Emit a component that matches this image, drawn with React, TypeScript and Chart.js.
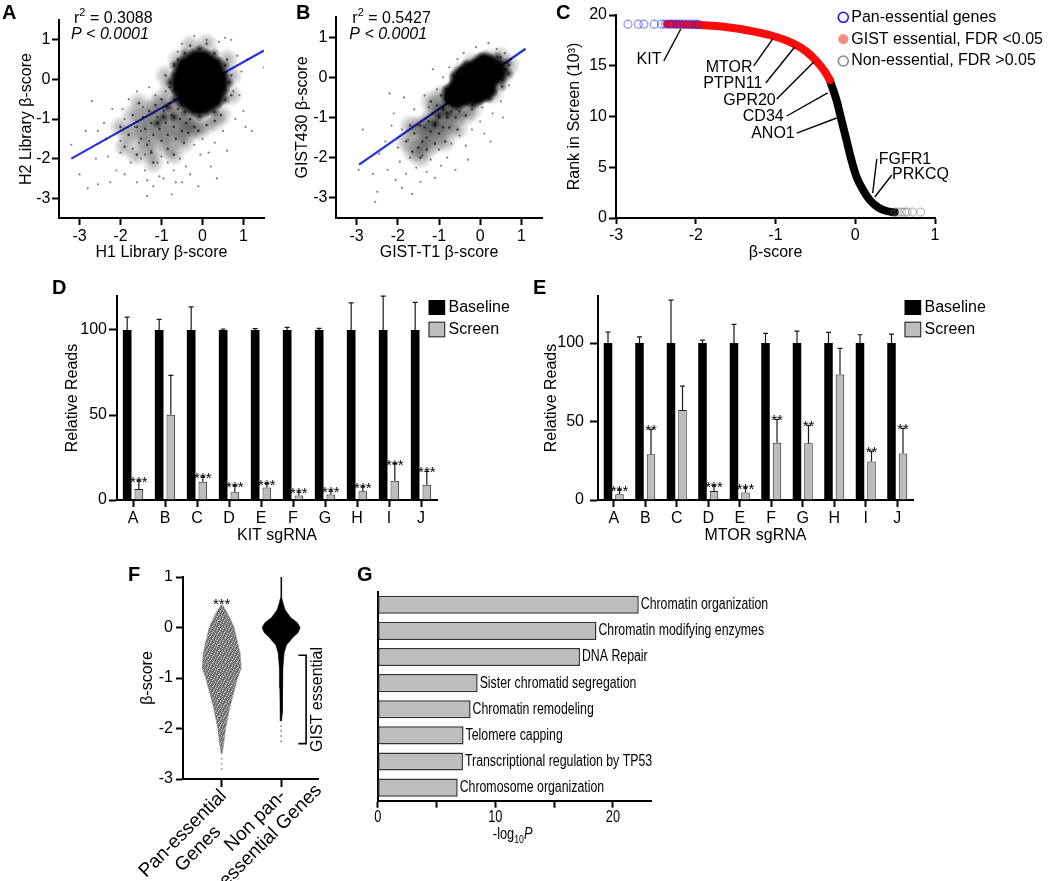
import React, { useEffect, useRef } from "react";
import { Chart, registerables } from "chart.js";

Chart.register(...registerables);

const FONT = "'Liberation Sans', Arial, Helvetica, sans-serif";
Chart.defaults.font.family = FONT;
Chart.defaults.font.size = 16;
Chart.defaults.color = "#000";

type Pt = [number, number];

// ======================= DATA =======================
// ---- Panel A : H1 vs H2 library beta-scores ----
const aTicks = [-3, -2, -1, 0, 1];
const aR2 = "0.3088";
const aP = "< 0.0001";
const aFit: Pt[] = [[-3.2, -2.0], [1.5, 0.73]];
const aCore: Pt[] = [[-0.07, -0.08], [-0.4, -0.08], [0.26, -0.08], [-0.07, 0.37], [-0.07, -0.53], [-0.3, 0.22], [0.16, 0.22], [-0.3, -0.38], [0.16, -0.38]];
const aFringe: Pt[] = [
  [0.65, -0.08], [0.55, 0.35], [0.29, 0.66], [-0.07, 0.77], [-0.43, 0.66], [-0.69, 0.35], [-0.79, -0.08], [-0.69, -0.51], [-0.43, -0.82], [-0.07, -0.93], [0.29, -0.82], [0.55, -0.51],
  [0.53, 0.11], [0.37, 0.45], [0.09, 0.64], [-0.23, 0.64], [-0.51, 0.45], [-0.67, 0.11], [-0.67, -0.27], [-0.51, -0.61], [-0.23, -0.8], [0.09, -0.8], [0.37, -0.61], [0.53, -0.27],
  [-0.85, -0.7], [-0.95, -0.95], [-0.7, -0.95], [-1.1, -1.1],
];
const aMid: Pt[] = [
  [-1.6, -1.2], [-1.5, -1.5], [-1.45, -0.95], [-1.4, -1.25], [-1.35, -1.65], [-1.3, -0.8], [-1.25, -1.1], [-1.2, -1.4], [-1.15, -0.65], [-1.1, -0.95],
  [-1.05, -1.25], [-1.0, -1.55], [-1.0, -0.5], [-0.95, -0.8], [-0.9, -1.1], [-0.85, -1.4], [-0.85, -1.75], [-0.8, -0.6], [-0.75, -0.9], [-0.7, -1.2],
  [-0.65, -1.5], [-0.6, -0.75], [-0.55, -1.0], [-0.5, -1.3], [-0.45, -1.6], [-0.4, -1.1], [-0.35, -1.35], [-0.3, -1.0], [-0.2, -1.2], [-0.1, -1.3],
  [0.1, -1.15], [0.3, -1.05], [-1.7, -0.9], [-1.8, -1.4], [-1.25, -1.85], [-1.55, -0.6], [-0.7, -1.9], [-0.6, 0.5], [-0.9, 0.1], [-0.8, -0.2],
  [0.45, -0.9], [0.6, 0.5], [0.7, 0.1], [0.7, -0.4], [-0.3, 0.85], [0.1, 0.9], [-2.0, -1.2], [-1.9, -1.7], [-1.6, -1.9], [-1.2, -2.1],
];
const aSparse: Pt[] = [
  [-3.2, -1.65], [-2.8, -2.75], [-2.7, -0.55], [-2.85, -1.3], [-2.55, -1.3], [-2.55, -2.65], [-2.3, -1.95], [-2.2, -0.75], [-2.1, -2.3], [-2.0, -1.55],
  [-2.0, -1.85], [-1.9, -1.0], [-1.9, -2.4], [-1.8, -1.4], [-1.8, -0.5], [-1.75, -2.1], [-1.7, -1.75], [-1.65, -1.2], [-1.6, -2.6], [-1.6, -0.3],
  [-1.55, -1.6], [-1.5, -2.0], [-1.5, -1.3], [-1.45, -0.7], [-1.4, -1.9], [-1.4, -2.3], [-1.35, -2.95], [-1.3, -1.55], [-1.3, -0.2], [-1.25, -1.8],
  [-1.2, -2.7], [-1.15, -0.4], [-1.1, -2.1], [-1.05, -2.45], [-1.0, -1.95], [-0.95, -2.5], [-0.9, -0.3], [-0.85, -2.1], [-0.75, -2.9], [-0.7, -2.3],
  [-0.7, 0.4], [-0.6, 0.7], [-0.55, -2.0], [-0.5, -2.6], [-0.5, 0.9], [-0.4, -2.2], [-0.3, -2.4], [-0.2, 1.1], [-0.1, -2.7], [-0.05, -1.9],
  [0.1, 1.0], [0.2, -2.2], [0.35, -2.5], [0.4, 0.95], [0.6, -1.8], [0.7, 1.0], [0.75, -0.3], [0.9, -0.4], [1.05, -1.2], [1.2, -1.3],
  [1.5, 0.3], [0.85, 0.6], [0.95, 0.2], [1.0, -0.8], [0.3, -1.6], [-0.2, -1.65], [0.0, -1.5], [0.5, -1.3], [0.8, -1.0], [-2.4, -1.1],
  [-2.6, -2.0], [-3.0, -2.4], [-2.35, -1.5], [-1.95, -0.75], [-1.35, -2.55], [-0.65, -2.6], [0.15, -1.85], [-2.25, -2.6], [1.1, 0.5], [0.55, 1.05],
];

// ---- Panel B : GIST-T1 vs GIST430 beta-scores ----
const bTicks = [-3, -2, -1, 0, 1];
const bR2 = "0.5427";
const bP = "< 0.0001";
const bFit: Pt[] = [[-2.94, -2.17], [1.1, 0.71]];
const bCore: Pt[] = [[-0.06, -0.1], [-0.44, -0.34], [0.32, 0.14], [-0.25, -0.22], [0.13, 0.02], [-0.2, 0.08], [0.08, -0.25], [-0.6, -0.46], [0.1, 0.27], [-0.38, -0.05], [-0.15, -0.38]];
const bFringe: Pt[] = [
  [0.65, 0.36], [0.42, 0.51], [0.06, 0.49], [-0.33, 0.32], [-0.65, 0.03], [-0.81, -0.29], [-0.77, -0.56], [-0.54, -0.71], [-0.18, -0.69], [0.21, -0.52], [0.53, -0.23], [0.69, 0.09],
  [0.49, 0.38], [0.23, 0.44], [-0.12, 0.35], [-0.44, 0.14], [-0.67, -0.14], [-0.73, -0.4], [-0.61, -0.58], [-0.35, -0.64], [0.0, -0.55], [0.32, -0.34], [0.55, -0.06], [0.61, 0.2],
  [-0.9, -0.75], [-1.0, -0.95], [-0.8, -0.9], [-1.1, -1.15],
];
const bMid: Pt[] = [
  [-0.9, -0.8], [-1.0, -1.0], [-1.1, -1.2], [-1.2, -1.35], [-1.3, -1.5], [-1.4, -1.6], [-1.5, -1.75], [-0.8, -1.0], [-0.9, -1.25], [-1.0, -1.4],
  [-1.15, -0.9], [-1.25, -1.1], [-1.35, -1.25], [-0.7, -0.85], [-0.6, -1.0], [-0.75, -1.25], [-1.05, -0.7], [-1.2, -0.6], [-1.45, -1.2], [-1.6, -1.4],
  [-0.5, -0.85], [-0.35, -0.95], [-0.2, -0.8], [-1.3, -1.8], [-1.1, -1.65], [0.3, -0.4], [0.55, 0.05], [0.7, 0.3], [0.5, 0.5], [0.2, 0.45],
  [-0.2, 0.35], [-0.45, 0.15], [-0.95, -0.45], [-1.7, -1.2], [-0.85, -1.6], [-1.65, -1.85], [-1.8, -1.6], [-1.45, -2.0], [-0.55, -1.3], [-0.4, -0.2],
];
const bSparse: Pt[] = [
  [-2.85, -1.3], [-2.95, -2.3], [-2.55, -3.1], [-2.5, -2.85], [-2.45, -1.9], [-2.3, -1.6], [-2.25, -2.3], [-2.1, -0.9], [-2.05, -2.55], [-2.0, -1.75],
  [-1.95, -2.1], [-1.9, -1.3], [-1.85, -0.5], [-1.8, -2.4], [-1.75, -1.55], [-1.7, -2.0], [-1.65, -2.9], [-1.6, -0.8], [-1.55, -2.25], [-1.5, -1.2],
  [-1.45, -2.6], [-1.4, -1.95], [-1.35, -0.45], [-1.3, -2.35], [-1.25, -0.75], [-1.2, -2.05], [-1.1, -2.5], [-1.05, -0.3], [-1.0, -1.8], [-0.95, -2.2],
  [-0.9, 0.0], [-0.8, -2.0], [-0.75, 0.25], [-0.7, -1.65], [-0.6, -2.3], [-0.55, 0.45], [-0.5, -1.45], [-0.4, 0.6], [-0.35, -1.7], [-0.2, -1.3],
  [-0.1, 0.75], [0.0, -1.1], [0.1, -1.4], [0.2, 0.85], [0.3, -0.9], [0.4, 0.7], [0.5, -0.6], [0.6, 0.6], [0.7, -0.2], [0.75, 0.45],
  [0.55, -1.0], [-1.15, 0.2], [-2.15, -1.2], [-0.3, -2.05], [0.25, -1.6], [-2.6, -2.4], [-1.9, -2.75], [-0.65, -0.3], [0.05, -0.75], [-2.2, -0.4],
];

// ---- Panel C : rank plot ----
const cXTicks = [-3, -2, -1, 0, 1];
const cYTicks = [0, 5, 10, 15, 20];
const cGistEssential: Pt[] = [[-2.36, 19.11], [-1.95, 19.02], [-1.6, 18.8], [-1.32, 18.45], [-1.03, 17.93], [-0.78, 17.2], [-0.61, 16.38], [-0.48, 15.4], [-0.38, 14.41], [-0.32, 13.6]];
const cNonEssential: Pt[] = [[-0.32, 13.6], [-0.236, 11.63], [-0.173, 9.66], [-0.11, 7.68], [-0.048, 5.71], [0.015, 4.07], [0.098, 2.76], [0.182, 1.77], [0.286, 1.05], [0.391, 0.69], [0.495, 0.56]];
const cPanEssential: Pt[] = [[-2.85, 19.1], [-2.72, 19.1], [-2.65, 19.1], [-2.52, 19.1], [-2.43, 19.1], [-2.38, 19.1], [-2.33, 19.1], [-2.29, 19.1], [-2.24, 19.1], [-2.2, 19.1], [-2.15, 19.1], [-2.1, 19.1], [-2.05, 19.1], [-2.0, 19.1], [-1.97, 19.08]];
const cNonEssTail: Pt[] = [[0.5, 0.58], [0.54, 0.58], [0.58, 0.58], [0.62, 0.58], [0.65, 0.58], [0.72, 0.58], [0.82, 0.58]];
const cLegend = ["Pan-essential genes", "GIST essential, FDR <0.05", "Non-essential, FDR >0.05"];
const cGenes = ["KIT", "MTOR", "PTPN11", "GPR20", "CD34", "ANO1", "FGFR1", "PRKCQ"];
const cGeneText: Pt[] = [[-2.43, 15.62], [-1.289, 14.78], [-1.164, 13.25], [-0.997, 11.58], [-0.897, 9.98], [-0.759, 8.28], [0.295, 5.76], [0.461, 4.27]];
const cGeneFrom: Pt[] = [[-2.401, 15.47], [-1.273, 14.98], [-1.122, 13.3], [-0.984, 11.72], [-0.859, 10.05], [-0.734, 8.37], [0.27, 5.81], [0.458, 4.24]];
const cGeneTo: Pt[] = [[-2.188, 18.62], [-1.034, 17.64], [-0.759, 16.85], [-0.52, 15.37], [-0.345, 12.32], [-0.232, 9.85], [0.219, 2.46], [0.245, 2.07]];

// ---- Panels D & E : relative reads ----
const sgRNAs = ["A", "B", "C", "D", "E", "F", "G", "H", "I", "J"];
const relTicks = [0, 50, 100];
const kitBaseline = [100, 100, 100, 100, 100, 100, 100, 100, 100, 100];
const kitBaselineErr = [7.6, 6.2, 13.6, 0.6, 0.8, 1.5, 1.0, 16, 19.9, 16.2];
const kitScreen = [6.4, 50.1, 10.7, 4.5, 7.4, 2.7, 3.3, 5.1, 11.3, 9.0];
const kitScreenErr = [4.9, 23.2, 2.9, 3.9, 2.3, 2.0, 2.0, 2.7, 10.1, 7.8];
const kitStars = ["***", "", "***", "***", "***", "***", "***", "***", "***", "***"];
const mtorBaseline = [100, 100, 100, 100, 100, 100, 100, 100, 100, 100];
const mtorBaselineErr = [7.0, 4.0, 27.4, 1.9, 11.9, 6.2, 7.6, 6.8, 5.3, 5.7];
const mtorScreen = [3.6, 29.1, 57.3, 5.7, 4.7, 36.5, 36.1, 80, 24.6, 29.7];
const mtorScreenErr = [2.8, 16.1, 15.3, 3.4, 3.1, 14.9, 11.5, 16.6, 6.6, 15.9];
const mtorStars = ["***", "**", "", "***", "***", "**", "**", "", "**", "**"];
const barSeries = ["Baseline", "Screen"];

// ---- Panel F : beta-score distributions ----
const fYTicks = [-3, -2, -1, 0, 1];
const fGroups = [["Pan-essential", "Genes"], ["Non pan-", "essential Genes"]];
const fPanY = [0.45, 0.35, 0.2, 0, -0.2, -0.5, -0.8, -1.0, -1.3, -1.6, -2.0, -2.3, -2.5];
const fPanHalfWidth = [0.008, 0.067, 0.135, 0.21, 0.25, 0.31, 0.33, 0.27, 0.2, 0.135, 0.067, 0.034, 0.01];
const fPanTail = [-2.6, -2.7, -2.8];
const fNonY = [1.0, 0.6, 0.5, 0.35, 0.2, 0.1, 0, -0.1, -0.2, -0.35, -0.5, -0.8, -1.2, -1.7, -1.85];
const fNonHalfWidth = [0.005, 0.008, 0.029, 0.067, 0.16, 0.27, 0.32, 0.287, 0.197, 0.089, 0.051, 0.03, 0.022, 0.017, 0.008];
const fNonTail = [-1.95, -2.05, -2.15, -2.25];
const fStars = "***";
const fGistRange = [-0.55, -2.3];
const fGistLabel = "GIST essential";

// ---- Panel G : pathway enrichment ----
const gTerms = [
  "Chromatin organization",
  "Chromatin modifying enzymes",
  "DNA Repair",
  "Sister chromatid segregation",
  "Chromatin remodeling",
  "Telomere capping",
  "Transcriptional regulation by TP53",
  "Chromosome organization",
];
const gLogP = [22.2, 18.6, 17.2, 8.5, 7.9, 7.3, 7.25, 6.8];
const gTicks = [0, 5, 10, 15, 20];
const gTickLabels = [0, 10, 20];

// ======================= HELPERS =======================
const xy = (arr: Pt[]) => arr.map(([x, y]) => ({ x, y }));

// soft round marker (point style) used to render dense clouds
function softDisk(r: number, alpha: number, solid: number) {
  const c = document.createElement("canvas");
  c.width = Math.ceil(2 * r);
  c.height = Math.ceil(2 * r);
  const g = c.getContext("2d") as CanvasRenderingContext2D;
  const grad = g.createRadialGradient(r, r, 0, r, r, r);
  grad.addColorStop(0, `rgba(0,0,0,${alpha})`);
  grad.addColorStop(solid, `rgba(0,0,0,${alpha})`);
  grad.addColorStop(1, "rgba(0,0,0,0)");
  g.fillStyle = grad;
  g.beginPath();
  g.arc(r, r, r, 0, Math.PI * 2);
  g.fill();
  return c;
}

// speckled grey texture for the swarm plot
function speckle() {
  const c = document.createElement("canvas");
  c.width = 6;
  c.height = 6;
  const g = c.getContext("2d") as CanvasRenderingContext2D;
  g.fillStyle = "#7c7c7c";
  g.fillRect(0, 0, 6, 6);
  g.fillStyle = "#c8c8c8";
  [[0, 0], [3, 1], [5, 3], [1, 4], [4, 5], [2, 2]].forEach(([x, y]) => g.fillRect(x, y, 1, 1));
  g.fillStyle = "#5e5e5e";
  [[1, 1], [4, 3], [2, 5], [5, 0]].forEach(([x, y]) => g.fillRect(x, y, 1, 1));
  return g.createPattern(c, "repeat");
}

interface AxOpt {
  type?: string;
  min?: number;
  max?: number;
  tickValues?: number[];
  size: number;
  horizontal: boolean;
  title?: string;
  titlePad?: number;
  tickLen?: number;
  tickPad?: number;
  rotation?: number;
  labels?: boolean;
  callback?: (v: any, i: number) => any;
  offset?: boolean;
  grid?: boolean;
}

function axis(o: AxOpt) {
  const ticks: any = {
    display: o.labels !== false,
    color: "#000",
    font: { family: FONT, size: 16 },
    padding: o.tickPad ?? 2,
    maxRotation: o.rotation ?? 0,
    minRotation: o.rotation ?? 0,
    autoSkip: false,
  };
  if (o.callback) ticks.callback = o.callback;
  const sc: any = {
    type: o.type ?? "linear",
    offset: o.offset ?? false,
    grid: {
      display: o.grid !== false,
      drawOnChartArea: false,
      drawTicks: true,
      tickLength: o.tickLen ?? 7,
      tickWidth: 2,
      tickColor: "#000",
      offset: false,
    },
    border: { display: true, color: "#000", width: 2 },
    ticks,
    title: o.title
      ? {
          display: true,
          text: o.title,
          color: "#000",
          font: { family: FONT, size: 16 },
          padding: o.horizontal ? { top: 0, bottom: o.titlePad ?? 0 } : { top: o.titlePad ?? 0, bottom: 0 },
        }
      : { display: false },
    afterFit: (s: any) => {
      if (o.horizontal) s.height = o.size;
      else s.width = o.size;
      s.paddingLeft = 0;
      s.paddingRight = 0;
      s.paddingTop = 0;
      s.paddingBottom = 0;
    },
  };
  if (o.min !== undefined) sc.min = o.min;
  if (o.max !== undefined) sc.max = o.max;
  if (o.tickValues) {
    const tv = o.tickValues;
    sc.afterBuildTicks = (s: any) => {
      s.ticks = tv.map((v) => ({ value: v }));
    };
  }
  return sc;
}

const baseOptions = (padding: any) => ({
  responsive: false,
  maintainAspectRatio: false,
  animation: false,
  devicePixelRatio: 1,
  events: [],
  layout: { padding },
  plugins: { legend: { display: false }, tooltip: { enabled: false } },
});

function drawCondensed(ctx: any, text: string, x: number, y: number, scale: number, align: string) {
  ctx.save();
  ctx.translate(x, y);
  ctx.scale(scale, 1);
  ctx.textAlign = align;
  ctx.fillText(text, 0, 0);
  ctx.restore();
}

// ======================= CONFIGS =======================
function cloudConfig(p: {
  core: Pt[]; fringe: Pt[]; mid: Pt[]; sparse: Pt[]; fit: Pt[]; ticks: number[];
  yW: number; padRight: number; xTitle: string; yTitle: string; yTitlePad: number;
  r2: string; pv: string; statX: number; coreR: number;
}) {
  const statsPlugin = {
    id: "stats",
    afterDraw(chart: any) {
      const ctx = chart.ctx;
      ctx.save();
      ctx.fillStyle = "#000";
      ctx.textBaseline = "alphabetic";
      ctx.textAlign = "left";
      ctx.font = `16px ${FONT}`;
      ctx.fillText("r", p.statX + 3, 23);
      const w = ctx.measureText("r").width;
      ctx.font = `11px ${FONT}`;
      ctx.fillText("2", p.statX + 3 + w, 16);
      const w2 = ctx.measureText("2").width;
      ctx.font = `16px ${FONT}`;
      ctx.fillText(" = " + p.r2, p.statX + 3 + w + w2, 23);
      ctx.font = `italic 16px ${FONT}`;
      ctx.fillText("P " + p.pv, p.statX, 38.5);
      ctx.restore();
    },
  };
  const coreStyle = softDisk(p.coreR, 1, 0.62);
  const hazeStyle = softDisk(12, 0.28, 0.2);
  const fringeStyle = softDisk(6, 0.45, 0.3);
  return {
    type: "scatter",
    data: {
      datasets: [
        { data: xy(p.core), pointStyle: coreStyle, pointRadius: p.coreR, order: 1 },
        { data: xy(p.fringe), pointStyle: fringeStyle, pointRadius: 6, order: 2 },
        { data: xy(p.fringe), pointRadius: 1.2, backgroundColor: "rgba(0,0,0,0.6)", borderWidth: 0, order: 3 },
        { data: xy(p.mid), pointRadius: 1.3, backgroundColor: "rgba(0,0,0,0.6)", borderWidth: 0, order: 4 },
        { data: xy(p.mid), pointStyle: hazeStyle, pointRadius: 12, order: 5 },
        { data: xy(p.sparse), pointRadius: 1.1, backgroundColor: "rgba(0,0,0,0.5)", borderWidth: 0, order: 6 },
        { data: xy(p.fit), showLine: true, pointRadius: 0, borderColor: "#2430e8", borderWidth: 2.2, order: 7 },
      ],
    },
    options: {
      ...baseOptions({ left: 0, top: 13, right: p.padRight, bottom: 0 }),
      scales: {
        x: axis({ min: -3.5, max: 1.5, tickValues: p.ticks, size: 52, horizontal: true, title: p.xTitle, titlePad: 7.4, tickLen: 7, tickPad: 2 }),
        y: axis({ min: -3.5, max: 1.5, tickValues: p.ticks, size: p.yW, horizontal: false, title: p.yTitle, titlePad: p.yTitlePad, tickLen: 7, tickPad: 1.5 }),
      },
    },
    plugins: [statsPlugin],
  };
}

function rankConfig() {
  const annot = {
    id: "annot",
    afterDraw(chart: any) {
      const { ctx, scales } = chart;
      const sx = scales.x, sy = scales.y;
      ctx.save();
      ctx.strokeStyle = "#000";
      ctx.lineWidth = 1.4;
      ctx.fillStyle = "#000";
      ctx.font = `16px ${FONT}`;
      ctx.textBaseline = "middle";
      cGenes.forEach((g, i) => {
        const [tx, ty] = cGeneText[i];
        ctx.textAlign = tx > 0 ? "left" : "right";
        ctx.fillText(g, sx.getPixelForValue(tx), sy.getPixelForValue(ty));
        ctx.beginPath();
        ctx.moveTo(sx.getPixelForValue(cGeneFrom[i][0]), sy.getPixelForValue(cGeneFrom[i][1]));
        ctx.lineTo(sx.getPixelForValue(cGeneTo[i][0]), sy.getPixelForValue(cGeneTo[i][1]));
        ctx.stroke();
      });
      // legend (top right, over the plot)
      const lx = chart.chartArea.right - 91.7;
      const lys = [17.3, 39.3, 61];
      ctx.textAlign = "left";
      lys.forEach((ly, i) => {
        ctx.beginPath();
        ctx.arc(lx, ly, 5, 0, Math.PI * 2);
        if (i === 0) { ctx.strokeStyle = "#1515ff"; ctx.lineWidth = 1.6; ctx.stroke(); }
        if (i === 1) { ctx.fillStyle = "#f58b7b"; ctx.fill(); }
        if (i === 2) { ctx.strokeStyle = "#8a8a8a"; ctx.lineWidth = 1.6; ctx.stroke(); }
        ctx.fillStyle = "#000";
        ctx.fillText(cLegend[i], lx + 8, ly);
      });
      ctx.restore();
    },
  };
  return {
    type: "scatter",
    data: {
      datasets: [
        { data: xy(cPanEssential), pointRadius: 4, pointBackgroundColor: "rgba(0,0,0,0)", pointBorderColor: "rgba(40,40,255,0.55)", pointBorderWidth: 1.2, order: 1 },
        { data: xy(cNonEssTail), pointRadius: 4, pointBackgroundColor: "rgba(0,0,0,0)", pointBorderColor: "rgba(120,120,120,0.5)", pointBorderWidth: 1.2, order: 2 },
        { data: xy(cGistEssential), showLine: true, pointRadius: 0, borderColor: "#ff0a0a", borderWidth: 8, borderCapStyle: "round", borderJoinStyle: "round", cubicInterpolationMode: "monotone", order: 3 },
        { data: xy(cNonEssential), showLine: true, pointRadius: 0, borderColor: "#000", borderWidth: 8, borderCapStyle: "round", borderJoinStyle: "round", cubicInterpolationMode: "monotone", order: 4 },
      ],
    },
    options: {
      ...baseOptions({ left: 0, top: 15, right: 115, bottom: 0 }),
      scales: {
        x: axis({ min: -3, max: 1, tickValues: cXTicks, size: 52, horizontal: true, title: "β-score", titlePad: 7.7, tickLen: 6, tickPad: 2 }),
        y: axis({ min: 0, max: 20, tickValues: cYTicks, size: 56, horizontal: false, title: "Rank in Screen (10³)", titlePad: 5.4, tickLen: 7, tickPad: 2 }),
      },
    },
    plugins: [annot],
  };
}

function readsConfig(p: { base: number[]; baseErr: number[]; screen: number[]; screenErr: number[]; stars: string[]; max: number; yW: number; padRight: number; xTitle: string; yTitlePad: number; yTickPad: number }) {
  const errPlugin = {
    id: "errbars",
    afterDatasetsDraw(chart: any) {
      const ctx = chart.ctx;
      const ys = chart.scales.y;
      chart.data.datasets.forEach((ds: any, i: number) => {
        const meta = chart.getDatasetMeta(i);
        meta.data.forEach((el: any, j: number) => {
          const top = ys.getPixelForValue(ds.data[j] + ds.errors[j]);
          ctx.save();
          ctx.strokeStyle = "#1a1a1a";
          ctx.lineWidth = 1.2;
          ctx.beginPath();
          ctx.moveTo(el.x, el.y);
          ctx.lineTo(el.x, top);
          ctx.moveTo(el.x - 2.5, top);
          ctx.lineTo(el.x + 2.5, top);
          ctx.stroke();
          const s = ds.stars ? ds.stars[j] : "";
          if (s) {
            ctx.font = `15px ${FONT}`;
            ctx.fillStyle = "#000";
            ctx.textAlign = "center";
            ctx.textBaseline = "alphabetic";
            ctx.fillText(s, el.x, top + 6);
          }
          ctx.restore();
        });
      });
    },
    afterDraw(chart: any) {
      const { ctx, chartArea } = chart;
      const x0 = chartArea.right - 8.5;
      ctx.save();
      ctx.fillStyle = "#000";
      ctx.fillRect(x0, 15, 16.7, 15);
      ctx.fillStyle = "#bdbdbd";
      ctx.fillRect(x0, 36.7, 16.7, 15.6);
      ctx.strokeStyle = "#222";
      ctx.lineWidth = 1;
      ctx.strokeRect(x0 + 0.5, 37.2, 15.7, 14.6);
      ctx.fillStyle = "#000";
      ctx.font = `16px ${FONT}`;
      ctx.textAlign = "left";
      ctx.textBaseline = "middle";
      ctx.fillText(barSeries[0], x0 + 20, 22.5);
      ctx.fillText(barSeries[1], x0 + 20, 45);
      ctx.restore();
    },
  };
  return {
    type: "bar",
    data: {
      labels: sgRNAs,
      datasets: [
        { label: barSeries[0], data: p.base, errors: p.baseErr, backgroundColor: "#000", borderWidth: 0, categoryPercentage: 0.73, barPercentage: 0.74 },
        { label: barSeries[1], data: p.screen, errors: p.screenErr, stars: p.stars, backgroundColor: "#bdbdbd", borderColor: "#222", borderWidth: 1, categoryPercentage: 0.73, barPercentage: 0.74 },
      ],
    },
    options: {
      ...baseOptions({ left: 0, top: 11, right: p.padRight, bottom: 0 }),
      scales: {
        x: axis({ type: "category", offset: true, size: 85, horizontal: true, title: p.xTitle, titlePad: 39.4, tickLen: 7, tickPad: 1.5 }),
        y: axis({ min: 0, max: p.max, tickValues: relTicks, size: p.yW, horizontal: false, title: "Relative Reads", titlePad: p.yTitlePad, tickLen: 8, tickPad: p.yTickPad }),
      },
    },
    plugins: [errPlugin],
  };
}

function violinPts(cx: number, ys: number[], hw: number[]) {
  const right = ys.map((y, i) => ({ x: cx + hw[i], y }));
  const left = ys.map((y, i) => ({ x: cx - hw[i], y })).reverse();
  return [...right, ...left];
}

function swarmConfig() {
  const annot = {
    id: "fannot",
    afterDraw(chart: any) {
      const { ctx, scales, chartArea } = chart;
      const sx = scales.x, sy = scales.y;
      ctx.save();
      ctx.fillStyle = "#000";
      ctx.font = `15px ${FONT}`;
      ctx.textAlign = "center";
      ctx.textBaseline = "alphabetic";
      ctx.fillText(fStars, sx.getPixelForValue(0), sy.getPixelForValue(0.48) + 6);
      const bx = sx.getPixelForValue(1.42);
      const bl = sx.getPixelForValue(1.29);
      const y1 = sy.getPixelForValue(fGistRange[0]);
      const y2 = sy.getPixelForValue(fGistRange[1]);
      ctx.strokeStyle = "#000";
      ctx.lineWidth = 1.6;
      ctx.beginPath();
      ctx.moveTo(bl, y1);
      ctx.lineTo(bx, y1);
      ctx.lineTo(bx, y2);
      ctx.lineTo(bl, y2);
      ctx.stroke();
      ctx.save();
      ctx.translate(sx.getPixelForValue(1.607), (y1 + y2) / 2);
      ctx.rotate(-Math.PI / 2);
      ctx.font = `16px ${FONT}`;
      ctx.textBaseline = "middle";
      ctx.fillText(fGistLabel, 0, 0);
      ctx.restore();
      // rotated, centre-aligned group labels
      ctx.font = `19px ${FONT}`;
      ctx.textBaseline = "middle";
      [0, 1].forEach((v, i) => {
        const lines = fGroups[i];
        ctx.save();
        ctx.translate(sx.getPixelForValue(v) + 2, chartArea.bottom + 14);
        ctx.rotate(-Math.PI / 4);
        const w0 = ctx.measureText(lines[0]).width;
        ctx.textAlign = "right";
        ctx.fillText(lines[0], 0, 0);
        ctx.textAlign = "center";
        for (let k = 1; k < lines.length; k++) ctx.fillText(lines[k], -w0 / 2, k * 21.5);
        ctx.restore();
      });
      ctx.restore();
    },
  };
  const pat = speckle();
  return {
    type: "scatter",
    data: {
      datasets: [
        { data: violinPts(0, fPanY, fPanHalfWidth), showLine: true, fill: "shape", backgroundColor: pat, borderColor: "#8a8a8a", borderWidth: 0.5, pointRadius: 0, order: 1 },
        { data: violinPts(1, fNonY, fNonHalfWidth), showLine: true, fill: "shape", backgroundColor: "#000", borderColor: "#000", borderWidth: 0.5, pointRadius: 0, order: 2 },
        { data: fPanTail.map((y) => ({ x: 0, y })), pointRadius: 1, backgroundColor: "#999", borderWidth: 0, order: 3 },
        { data: fNonTail.map((y) => ({ x: 1, y })), pointRadius: 1, backgroundColor: "#999", borderWidth: 0, order: 4 },
      ],
    },
    options: {
      ...baseOptions({ left: 0, top: 7, right: 12, bottom: 0 }),
      scales: {
        x: axis({ min: -0.65, max: 1.62, tickValues: [0, 1], size: 102, horizontal: true, tickLen: 8, labels: false }),
        y: axis({ min: -3, max: 1, tickValues: fYTicks, size: 183, horizontal: false, title: "β-score", titlePad: 138.4, tickLen: 7, tickPad: 3 }),
      },
    },
    plugins: [annot],
  };
}

function enrichConfig() {
  const labelsPlugin = {
    id: "glabels",
    afterDraw(chart: any) {
      const { ctx, chartArea, scales } = chart;
      const meta = chart.getDatasetMeta(0);
      ctx.save();
      ctx.fillStyle = "#000";
      ctx.font = `16px ${FONT}`;
      ctx.textBaseline = "middle";
      meta.data.forEach((el: any, i: number) => {
        drawCondensed(ctx, gTerms[i], el.x + 2, el.y, 0.77, "left");
      });
      ctx.textBaseline = "alphabetic";
      gTickLabels.forEach((v) => {
        drawCondensed(ctx, String(v), scales.x.getPixelForValue(v), chartArea.bottom + 21, 0.8, "center");
      });
      // axis title: -log10 P
      const cx = (chartArea.left + chartArea.right) / 2 - 2;
      const by = chartArea.bottom + 38;
      ctx.font = `16px ${FONT}`;
      const w1 = ctx.measureText("-log").width * 0.8;
      ctx.font = `11px ${FONT}`;
      const w2 = ctx.measureText("10").width * 0.8;
      ctx.font = `italic 16px ${FONT}`;
      const w3 = ctx.measureText("P").width * 0.8;
      let x = cx - (w1 + w2 + w3) / 2;
      ctx.font = `16px ${FONT}`;
      drawCondensed(ctx, "-log", x, by, 0.8, "left");
      x += w1;
      ctx.font = `11px ${FONT}`;
      drawCondensed(ctx, "10", x, by + 4, 0.8, "left");
      x += w2;
      ctx.font = `italic 16px ${FONT}`;
      drawCondensed(ctx, "P", x, by, 0.8, "left");
      ctx.restore();
    },
  };
  return {
    type: "bar",
    data: {
      labels: gTerms,
      datasets: [
        { data: gLogP, backgroundColor: "#bebebe", borderColor: "#333", borderWidth: 1.5, borderSkipped: false, categoryPercentage: 1, barPercentage: 0.69 },
      ],
    },
    options: {
      ...baseOptions({ left: 47.7, top: 6.7, right: 398.3, bottom: 0 }),
      indexAxis: "y",
      scales: {
        x: axis({ min: 0, max: 23.3, tickValues: gTicks, size: 80.3, horizontal: true, tickLen: 7, labels: false }),
        y: axis({ type: "category", offset: true, size: 0, horizontal: false, labels: false, grid: false }),
      },
    },
    plugins: [labelsPlugin],
  };
}

// ======================= COMPONENTS =======================
function Panel({ x, y, w, h, make }: { x: number; y: number; w: number; h: number; make: () => any }) {
  const ref = useRef<HTMLCanvasElement>(null);
  useEffect(() => {
    const chart = new Chart(ref.current as HTMLCanvasElement, make());
    return () => chart.destroy();
  }, []);
  return (
    <canvas
      ref={ref}
      width={w}
      height={h}
      style={{ position: "absolute", left: x, top: y, width: w, height: h }}
    />
  );
}

const letterStyle = (left: number, top: number): React.CSSProperties => ({
  position: "absolute",
  left,
  top,
  font: `bold 20px ${FONT}`,
  lineHeight: "20px",
  color: "#000",
});

export default function App() {
  return (
    <div style={{ position: "absolute", left: 0, top: 0, width: 1050, height: 881, background: "#fff", overflow: "hidden" }}>
      <Panel x={0} y={0} w={290} h={270} make={() => cloudConfig({ core: aCore, fringe: aFringe, mid: aMid, sparse: aSparse, fit: aFit, ticks: aTicks, yW: 59, padRight: 26, xTitle: "H1 Library β-score", yTitle: "H2 Library β-score", yTitlePad: 17.4, r2: aR2, pv: aP, statX: 71, coreR: 19 })} />
      <Panel x={290} y={0} w={270} h={270} make={() => cloudConfig({ core: bCore, fringe: bFringe, mid: bMid, sparse: bSparse, fit: bFit, ticks: bTicks, yW: 46, padRight: 18, xTitle: "GIST-T1 β-score", yTitle: "GIST430 β-score", yTitlePad: 3.4, r2: bR2, pv: bP, statX: 59.3, coreR: 16 })} />
      <Panel x={560} y={0} w={490} h={270} make={rankConfig} />
      <Panel x={0} y={285} w={520} h={300} make={() => readsConfig({ base: kitBaseline, baseErr: kitBaselineErr, screen: kitScreen, screenErr: kitScreenErr, stars: kitStars, max: 120, yW: 117, padRight: 83, xTitle: "KIT sgRNA", yTitlePad: 63, yTickPad: 2 })} />
      <Panel x={520} y={285} w={530} h={300} make={() => readsConfig({ base: mtorBaseline, baseErr: mtorBaselineErr, screen: mtorScreen, screenErr: mtorScreenErr, stars: mtorStars, max: 130, yW: 78, padRight: 137, xTitle: "MTOR sgRNA", yTitlePad: 22.4, yTickPad: 6 })} />
      <Panel x={0} y={570} w={330} h={311} make={swarmConfig} />
      <Panel x={330} y={585} w={720} h={296} make={enrichConfig} />
      <div style={letterStyle(2, 2.4)}>A</div>
      <div style={letterStyle(296, 2.4)}>B</div>
      <div style={letterStyle(556, 2.4)}>C</div>
      <div style={letterStyle(52, 277.4)}>D</div>
      <div style={letterStyle(533, 277.4)}>E</div>
      <div style={letterStyle(128, 564.4)}>F</div>
      <div style={letterStyle(357, 564.4)}>G</div>
    </div>
  );
}
